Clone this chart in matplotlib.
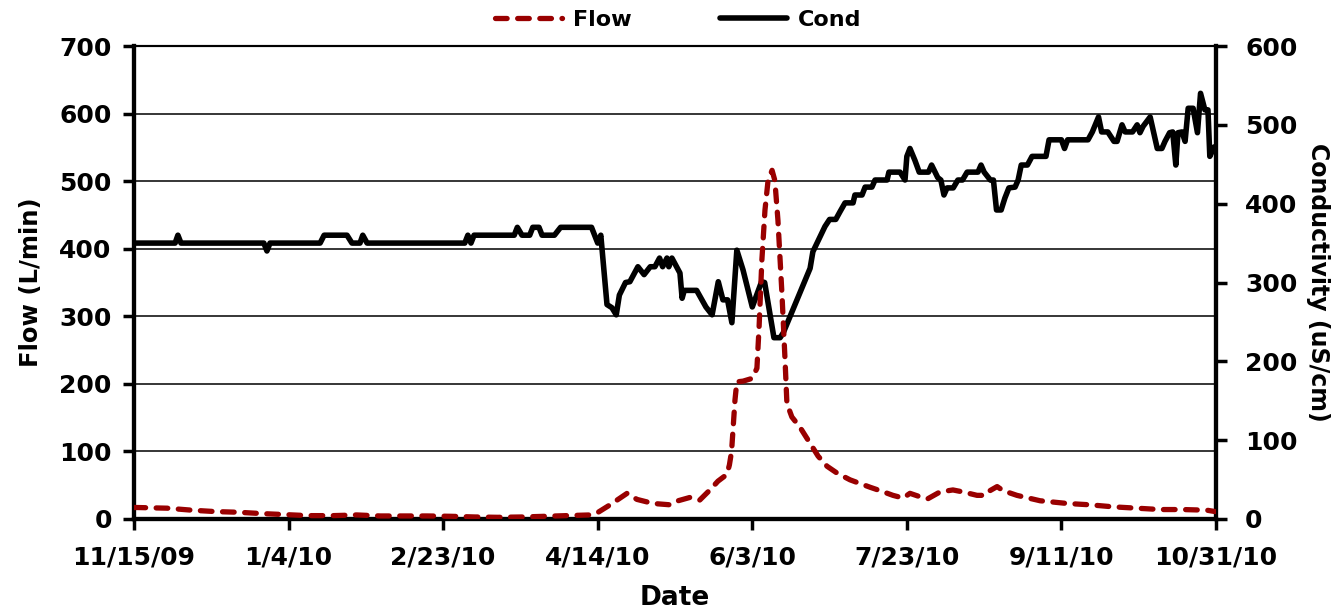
import numpy as np
import matplotlib
matplotlib.use("Agg")
import matplotlib.pyplot as plt
import matplotlib.dates as mdates

plt.rcParams['font.family'] = ['DejaVu Sans']
plt.rcParams['font.weight'] = 'bold'
plt.rcParams['axes.labelweight'] = 'bold'

# Record start date; series positions are days since this date
start_date = '2009-11-15'

# Spring flow (L/min)
flow_days = [0, 1, 10.7, 18.8, 26.2, 33.6, 41.4, 48.9, 56.3, 64.4, 72.1, 79.6,
             87.3, 94.8, 102.5, 110.3, 117.7, 125.5, 133, 140, 147.5, 149.8,
             154, 159.5, 162.7, 167.9, 173.4, 176, 179.9, 183, 186.3, 188.9,
             191.8, 192.6, 193.3, 194.4, 195, 197, 199.9, 201.5, 202.2, 203.1,
             204.1, 205.1, 206.4, 207.3, 208.3, 209.6, 210.6, 211.2, 212.8,
             215.4, 218.7, 221.3, 224.2, 227.4, 231.6, 238.1, 241.3, 245.5,
             248.8, 251, 254.2, 256.8, 260.7, 264.9, 268.2, 272.7, 275.3,
             276.9, 279.2, 281.1, 285.6, 293.1, 301.8, 309.2, 316.7, 324.4,
             331.9, 339.3, 347.1, 349.7]
flow_vals = [17, 17, 16, 13, 11, 10, 8, 6.5, 5, 5, 6, 4.5,
             4.5, 4.5, 4, 3, 2.5, 3, 4, 5, 6, 9,
             21, 38, 29, 23, 21, 27, 32, 28, 43, 56,
             66, 80, 100, 176, 203, 204, 208, 223, 284, 383,
             457, 501, 516, 501, 442, 333, 235, 171, 151,
             136, 112, 93, 78, 68, 58, 47, 42, 35,
             31, 38, 33, 30, 40, 43, 40, 35, 35,
             42, 48, 42, 35, 27, 23, 21, 18, 16,
             14, 14, 13, 11]

# Specific conductance (uS/cm)
cond_days = [0, 13.3, 14.2, 15.2, 42, 43, 44, 60.2, 61.5, 68.9, 70.5, 73.1, 74,
             75.4, 107, 108, 109, 110, 123, 124, 125.5, 128, 129, 131, 132, 136,
             138, 148, 150, 151, 153, 154.6, 156, 157, 159, 160.4, 163, 165, 167,
             168.5, 170, 171, 172.4, 173, 174, 176.6, 177.3, 178, 182, 185, 187,
             189, 190.5, 192, 193.4, 195, 197, 200, 203, 204, 207, 209, 210,
             218.7, 219.6, 223.5, 225, 227, 228.4, 230, 232.6, 233.2, 235.5,
             236.5, 238.7, 239.7, 243.6, 244.2, 247.8, 249.4, 250, 251, 252.6,
             254, 257, 258, 260, 261, 262, 263, 265, 266.5, 268, 269.5, 273,
             274, 275, 277, 278, 279, 280.5, 281.7, 283, 285, 286, 287, 289,
             290.5, 295, 296, 300, 301, 302, 308.6, 310, 312, 313, 315, 317,
             318, 319.6, 320.6, 323, 324.5, 325.4, 326.4, 328.7, 331, 332.5,
             333.5, 335, 336, 337, 337.7, 339, 340, 341, 342.6, 344, 345,
             346.4, 347.4, 348, 349.4]
cond_vals = [350, 350, 360, 350, 350, 340, 350, 350, 360, 360, 350, 350, 360,
             350, 350, 360, 350, 360, 360, 370, 360, 360, 370, 370, 360, 360,
             370, 370, 350, 360, 272, 268, 259, 284, 300, 301, 320, 310, 320,
             320, 331, 320, 331, 320, 331, 312, 280, 290, 290, 269, 259,
             301, 278, 278, 249, 341, 316, 269, 301, 300, 230, 230, 236,
             318, 339, 371, 380, 380, 390, 401, 401, 411, 411,
             421, 421, 430, 430, 440, 440, 430, 460, 470, 455,
             440, 440, 449, 433, 430, 411, 420, 420, 430, 430, 440, 440,
             449, 440, 430, 430, 392, 392, 407, 420, 421, 430, 449, 449,
             460, 460, 481, 481, 470, 481, 481, 491, 510, 491, 491, 479,
             479, 500, 491, 491, 500, 490, 498, 510, 470, 470,
             479, 490, 491, 449, 490, 491, 479, 521, 521, 490, 540,
             519, 519, 460, 472]

tick_dates = ['2009-11-15', '2010-01-04', '2010-02-23', '2010-04-14',
              '2010-06-03', '2010-07-23', '2010-09-11', '2010-10-31']
tick_labels = ['11/15/09', '1/4/10', '2/23/10', '4/14/10',
               '6/3/10', '7/23/10', '9/11/10', '10/31/10']
flow_ticks = [0, 100, 200, 300, 400, 500, 600, 700]
cond_ticks = [0, 100, 200, 300, 400, 500, 600]

t0 = mdates.datestr2num(start_date)
flow_x = t0 + np.asarray(flow_days)
cond_x = t0 + np.asarray(cond_days)
tick_x = [mdates.datestr2num(d) for d in tick_dates]

W, H = 1343, 612
fig = plt.figure(figsize=(W / 100, H / 100), dpi=100)
ax = fig.add_axes([134 / W, 1 - 519 / H, (1216 - 134) / W, (519 - 46) / H])
ax2 = ax.twinx()

# flow drawn above the conductivity trace
ax.set_zorder(2)
ax2.set_zorder(1)
ax.patch.set_visible(False)

red = '#990000'
l_flow, = ax.plot(flow_x, flow_vals, color=red, lw=3.8, dashes=(2.2, 2.0),
                  dash_capstyle='round', label='Flow', zorder=3)
l_cond, = ax2.plot(cond_x, cond_vals, color='black', lw=4.0,
                   solid_joinstyle='round', solid_capstyle='round',
                   label='Cond', zorder=3)

ax.set_xlim(tick_x[0], tick_x[-1])
ax.set_ylim(0, 700)
ax2.set_ylim(0, 600)
ax.set_xticks(tick_x)
ax.set_xticklabels(tick_labels)
ax.set_yticks(flow_ticks)
ax2.set_yticks(cond_ticks)

ax.yaxis.grid(True, color='black', lw=1.1)
ax.set_axisbelow(True)

for a in (ax, ax2):
    for side in ('left', 'right', 'bottom'):
        a.spines[side].set_linewidth(3)
    a.spines['top'].set_linewidth(1.5)

ax.tick_params(axis='y', direction='out', length=8, width=2.5, labelsize=18, pad=8)
ax.tick_params(axis='x', direction='out', length=8, width=2.5, labelsize=18, pad=11)
ax2.tick_params(axis='y', direction='out', length=8, width=2.5, labelsize=18, pad=13)

ax.set_ylabel('Flow (L/min)', fontsize=17.5, fontweight='bold', va='center')
ax.yaxis.set_label_coords(-0.095, 0.5)
ax2.set_ylabel('Conductivity (uS/cm)', fontsize=17, fontweight='bold',
               rotation=270, va='center')
ax2.yaxis.set_label_coords(1.094, 0.5)
ax.set_xlabel('Date', fontsize=19, fontweight='bold', va='center')
ax.xaxis.set_label_coords(0.5, -0.167)

fig.legend([l_flow, l_cond], ['Flow', 'Cond'], loc='center',
           bbox_to_anchor=(0.505, 0.967), ncol=2, frameon=False, fontsize=16,
           handlelength=3.0, columnspacing=4.0, handletextpad=0.5)

fig.savefig('out.png', dpi=100)
